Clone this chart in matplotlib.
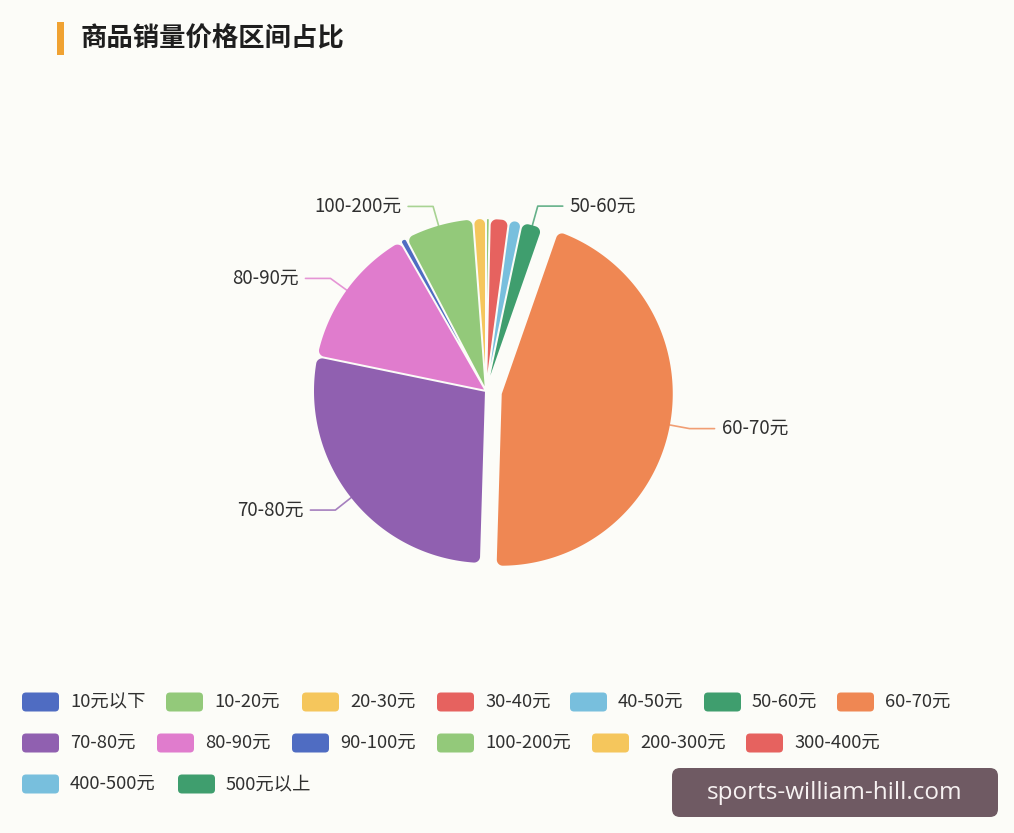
import numpy as np
import matplotlib
matplotlib.use("Agg")
import matplotlib.pyplot as plt
from matplotlib.path import Path
from matplotlib.patches import PathPatch, FancyBboxPatch, Rectangle

plt.rcParams['font.family'] = ['Noto Sans CJK SC', 'DejaVu Sans']

# ---------------- data ----------------
title = "商品销量价格区间占比"
categories = ["10元以下", "10-20元", "20-30元", "30-40元", "40-50元", "50-60元",
              "60-70元", "70-80元", "80-90元", "90-100元", "100-200元",
              "200-300元", "300-400元", "400-500元", "500元以上"]
shares = [0.0, 0.35, 0.0, 1.8, 1.2, 2.0, 45.2, 27.8, 13.5, 0.6, 6.5, 1.2, 0.0, 0.0, 0.0]
colors = ["#4f6cc2", "#93c97a", "#f5c65c", "#e6625f", "#78bfdd", "#3f9e6e",
          "#ef8753", "#9060b0", "#e07ccd", "#4f6cc2", "#93c97a", "#f5c65c",
          "#e6625f", "#78bfdd", "#3f9e6e"]
selected = ["60-70元"]
labelled = ["50-60元", "60-70元", "70-80元", "80-90元", "100-200元"]
legend_rows = [categories[0:7], categories[7:13], categories[13:15]]
watermark = "sports-william-hill.com"

# ---------------- layout ----------------
W, H = 1014, 833
BG = "#fcfcf8"
fig = plt.figure(figsize=(W / 100, H / 100), dpi=100, facecolor=BG)

# background axes in pixel coords
bg = fig.add_axes([0, 0, 1, 1])
bg.set_xlim(0, W)
bg.set_ylim(H, 0)
bg.axis('off')
bg.set_facecolor(BG)

# title
bg.add_patch(Rectangle((57, 22), 7, 33, color="#f0a232", lw=0))
bg.text(81, 39, title, fontsize=19, fontweight='bold', color="#1e1e1e",
        ha='left', va='center')

# pie axes: center (486, 391) px, radius 172 px
CX, CY, RPX = 486, 391, 172
half = 320
ax = fig.add_axes([(CX - half) / W, (H - CY - half) / H, 2 * half / W, 2 * half / H])

explode = [15 / RPX if c in selected else 0 for c in categories]
wedges, _ = ax.pie(shares, colors=colors, startangle=90, counterclock=False,
                   explode=explode, radius=1.0)
ax.set_aspect('auto')
ax.set_xlim(-half / RPX, half / RPX)
ax.set_ylim(-half / RPX, half / RPX)
ax.axis('off')

GAP = 2.0 / RPX
RHO0 = 6.0 / RPX


def rounded_wedge(c, r, a_deg, b_deg, gap, rho0):
    a = np.deg2rad(a_deg)
    b = np.deg2rad(b_deg)
    alpha = b - a
    h = gap / 2
    if alpha <= 0 or np.sin(alpha / 2) * r <= h * 1.02:
        return None
    rho = rho0
    while True:
        t0 = np.sqrt(max((r - rho) ** 2 - (h + rho) ** 2, 1e-9))
        phi = np.arctan2(h + rho, t0)
        if 2 * phi <= alpha or rho < 1e-5:
            break
        rho *= 0.85
    c = np.asarray(c)
    u1 = np.array([np.cos(a), np.sin(a)])
    n1 = np.array([-np.sin(a), np.cos(a)])
    u2 = np.array([np.cos(b), np.sin(b)])
    n2 = np.array([np.sin(b), -np.cos(b)])
    mid = (a + b) / 2
    apex = c + (h / np.sin(alpha / 2)) * np.array([np.cos(mid), np.sin(mid)])
    pts = [apex]
    F1 = c + t0 * u1 + (h + rho) * n1
    for ang in np.linspace(a - np.pi / 2, a + phi, 16):
        pts.append(F1 + rho * np.array([np.cos(ang), np.sin(ang)]))
    s, e = a + phi, b - phi
    if e > s:
        for ang in np.linspace(s, e, max(int(np.rad2deg(e - s)) + 2, 2)):
            pts.append(c + r * np.array([np.cos(ang), np.sin(ang)]))
    F2 = c + t0 * u2 + (h + rho) * n2
    for ang in np.linspace(b - phi, b + np.pi / 2, 16):
        pts.append(F2 + rho * np.array([np.cos(ang), np.sin(ang)]))
    pts.append(apex)
    pts = np.array(pts)
    codes = [Path.MOVETO] + [Path.LINETO] * (len(pts) - 2) + [Path.CLOSEPOLY]
    return Path(pts, codes)


for w, col in zip(wedges, colors):
    w.set_visible(False)
    p = rounded_wedge(w.center, w.r, w.theta1, w.theta2, GAP, RHO0)
    if p is not None:
        ax.add_patch(PathPatch(p, facecolor=col, edgecolor='none', lw=0))

# labels with leader lines
L1 = 20 / RPX
L2 = 25 / RPX
PAD = 7 / RPX
for w, cat, col in zip(wedges, categories, colors):
    if cat not in labelled:
        continue
    mid = np.deg2rad((w.theta1 + w.theta2) / 2)
    d = np.array([np.cos(mid), np.sin(mid)])
    c = np.asarray(w.center)
    p0 = c + w.r * d
    p1 = c + (w.r + L1) * d
    sgn = 1 if d[0] >= 0 else -1
    p2 = p1 + np.array([sgn * L2, 0])
    ax.plot([p0[0], p1[0], p2[0]], [p0[1], p1[1], p2[1]], color=col, lw=1.2,
            alpha=0.8, solid_joinstyle='round', solid_capstyle='round')
    ax.text(p2[0] + sgn * PAD, p2[1], cat, fontsize=13.5, color="#303030",
            ha='left' if sgn > 0 else 'right', va='center')

# legend
row_y = [702, 743, 784]
row_x = [[22, 166, 302, 437, 570, 704, 837],
         [22, 157, 292, 437, 592, 746],
         [22, 178]]
for items, xs, yy in zip(legend_rows, row_x, row_y):
    for name, x0 in zip(items, xs):
        col = colors[categories.index(name)]
        bg.add_patch(FancyBboxPatch((x0, yy - 9.5), 37, 19,
                                    boxstyle="round,pad=0,rounding_size=4",
                                    facecolor=col, edgecolor='none'))
        bg.text(x0 + 48, yy, name, fontsize=13.2, color="#303030",
                ha='left', va='center')

# watermark
bg.add_patch(FancyBboxPatch((672, 768), 326, 49,
                            boxstyle="round,pad=0,rounding_size=8",
                            facecolor="#6f5a63", edgecolor='none'))
bg.text(835, 793, watermark, fontsize=17.5, color="#f7f2f2",
        family=['Open Sans', 'DejaVu Sans'], ha='center', va='center')

fig.savefig("out.png", dpi=100, facecolor=BG)
